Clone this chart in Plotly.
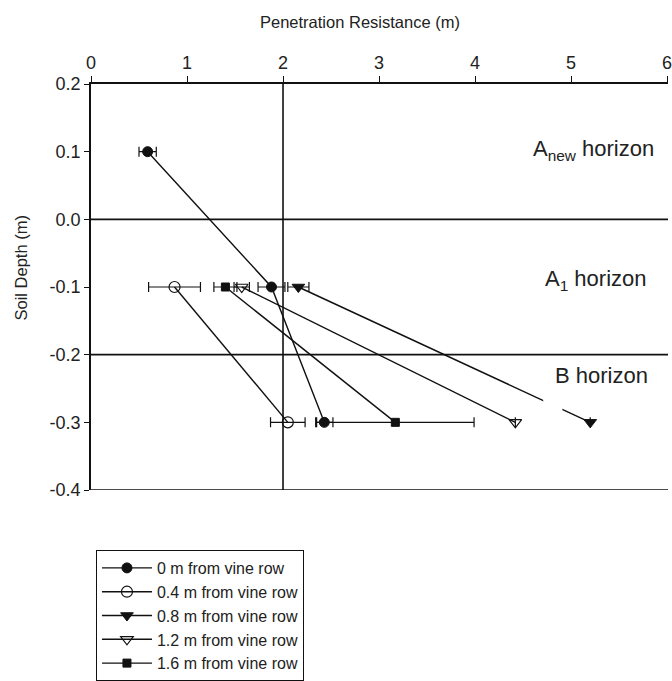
import plotly.graph_objects as go

# Data
series_names = ["0 m from vine row", "0.4 m from vine row", "0.8 m from vine row",
                "1.2 m from vine row", "1.6 m from vine row"]
s0_depth = [0.1, -0.1, -0.3]
s0_x = [0.59, 1.88, 2.43]
s0_err = [0.09, 0.14, 0.09]
s04_depth = [-0.1, -0.3]
s04_x = [0.87, 2.05]
s04_err = [0.27, 0.18]
s08_depth = [-0.1, -0.3]
s08_x = [2.16, 5.20]
s08_err = [0.11, 0.0]
s12_depth = [-0.1, -0.3]
s12_x = [1.57, 4.42]
s12_err = [0.08, 0.0]
s16_depth = [-0.1, -0.3]
s16_x = [1.40, 3.17]
s16_err = [0.12, 0.82]

x_ticks = [0, 1, 2, 3, 4, 5, 6]
y_ticks = [0.2, 0.1, 0.0, -0.1, -0.2, -0.3, -0.4]
y_ticklabels = ["0.2", "0.1", "0.0", "-0.1", "-0.2", "-0.3", "-0.4"]
horizon_lines = [0.0, -0.2, -0.4]
ref_x = 2
horizon_labels = ["A<sub>new</sub> horizon", "A<sub>1</sub> horizon", "B horizon"]
horizon_label_x = [5.23, 5.26, 5.32]
horizon_label_y = [0.102, -0.089, -0.231]

FONT = "Liberation Sans, Arial, sans-serif"
BLACK = "#111111"
TEXT = "#222222"

styles = [
    dict(symbol="circle", size=10, line_w=1),
    dict(symbol="circle-open", size=11, line_w=1.2),
    dict(symbol="triangle-down", size=11, line_w=1),
    dict(symbol="triangle-down-open", size=11, line_w=1.2),
    dict(symbol="square", size=8, line_w=1),
]
xs = [s0_x, s04_x, s08_x, s12_x, s16_x]
ys = [s0_depth, s04_depth, s08_depth, s12_depth, s16_depth]
errs = [s0_err, s04_err, s08_err, s12_err, s16_err]

fig = go.Figure()
for name, x, y, e, st in zip(series_names, xs, ys, errs, styles):
    fig.add_trace(go.Scatter(
        x=x, y=y, name=name, mode="lines+markers",
        line=dict(color=BLACK, width=1.4),
        marker=dict(symbol=st["symbol"], size=st["size"], color=BLACK,
                    line=dict(color=BLACK, width=st["line_w"])),
        error_x=dict(type="data", array=e, color=BLACK, thickness=1.2, width=5,
                     visible=True),
        cliponaxis=False,
    ))

for hy in horizon_lines:
    fig.add_shape(type="line", xref="paper", x0=0, x1=1, yref="y", y0=hy, y1=hy,
                  line=dict(color=BLACK, width=1.6), layer="below")
fig.add_shape(type="line", xref="x", x0=ref_x, x1=ref_x, yref="paper", y0=0, y1=1,
              line=dict(color=BLACK, width=1.6), layer="below")
# small break in the 0.8 m line beside the "B horizon" label, as in the original
fig.add_shape(type="rect", xref="x", yref="y", x0=4.71, x1=4.91, y0=-0.29, y1=-0.258,
              fillcolor="white", line=dict(width=0), layer="above")

ann_font = dict(family=FONT, size=22, color=TEXT)
for t, hx, hy in zip(horizon_labels, horizon_label_x, horizon_label_y):
    fig.add_annotation(x=hx, y=hy, xref="x", yref="y", text=t, showarrow=False,
                       font=ann_font, xanchor="center", yanchor="middle")

fig.add_annotation(x=0.466, y=1.152, xref="paper", yref="paper",
                   text="Penetration Resistance (m)", showarrow=False,
                   xanchor="center", yanchor="middle",
                   font=dict(family=FONT, size=16.5, color=TEXT))
fig.add_annotation(x=-0.122, y=0.547, xref="paper", yref="paper",
                   text="Soil Depth (m)", showarrow=False, textangle=-90,
                   xanchor="center", yanchor="middle",
                   font=dict(family=FONT, size=16.5, color=TEXT))

fig.update_layout(
    width=672, height=681,
    margin=dict(l=91, r=0, t=84, b=191),
    paper_bgcolor="white", plot_bgcolor="white",
    font=dict(family=FONT, size=18, color=TEXT),
    showlegend=True,
    legend=dict(x=0.0086, y=-0.148, xanchor="left", yanchor="top",
                bordercolor=BLACK, borderwidth=1, bgcolor="white",
                font=dict(family=FONT, size=16, color=TEXT),
                itemwidth=50, tracegroupgap=0),
    xaxis=dict(range=[0, 6.01], side="top", tickvals=x_ticks, ticks="outside",
               ticklen=6, tickcolor=BLACK, showline=True, linecolor=BLACK,
               linewidth=1.6, showgrid=False, zeroline=False,
               ticklabeloverflow="allow",
               tickfont=dict(family=FONT, size=18, color=TEXT)),
    yaxis=dict(range=[-0.4, 0.2], tickvals=y_ticks, ticktext=y_ticklabels,
               ticks="outside", ticklen=5, tickcolor=BLACK, showline=True,
               linecolor=BLACK, linewidth=1.6, showgrid=False, zeroline=False,
               tickfont=dict(family=FONT, size=18, color=TEXT)),
)

fig.write_html("out.html")
